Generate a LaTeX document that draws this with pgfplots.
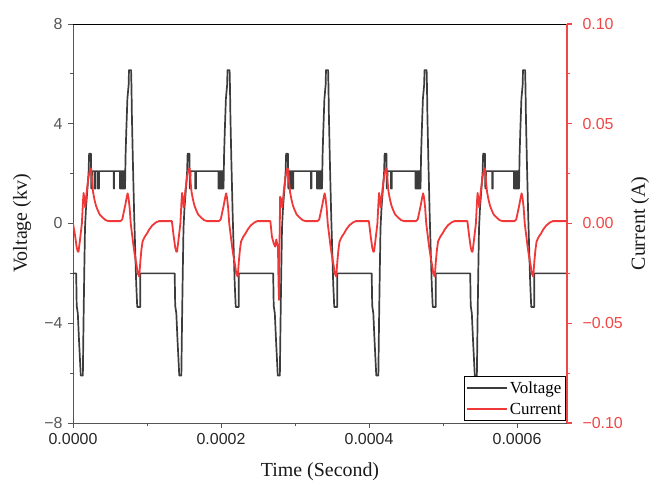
\documentclass[border=0pt]{standalone}
\usepackage{fontspec}
\setmainfont{Liberation Serif}
\newfontfamily\arialfont{Liberation Sans}
\usepackage{pgfplots}
\pgfplotsset{compat=1.18}

\definecolor{vgray}{RGB}{60,60,60}
\definecolor{axgray}{RGB}{85,85,85}
\definecolor{cred}{RGB}{240,56,56}
\definecolor{axred}{RGB}{240,70,70}

\begin{document}
\begin{tikzpicture}
\useasboundingbox (-73bp,-61bp) rectangle (578bp,423bp);

% time axis in microseconds, ticks labelled in seconds
\begin{axis}[
  at={(0,0)}, anchor=south west,
  scale only axis, width=494bp, height=399bp,
  xmin=0, xmax=667.5, ymin=-8, ymax=8,
  axis line style={draw=axgray, line width=0.9bp},
  xtick={0,200,400,600}, xticklabels={0.0000,0.0002,0.0004,0.0006},
  minor xtick={100,300,500},
  ytick={-8,-4,0,4,8}, yticklabels={−8,−4,0,4,8},
  minor ytick={-6,-2,2,6},
  xtick pos=lower, ytick pos=left,
  tick align=outside, major tick length=5bp, minor tick length=3bp,
  tick style={axgray, line width=0.9bp},
  tick label style={font=\arialfont\fontsize{16}{18}\selectfont},
  yticklabel style={color=axgray, xshift=-2bp},
  xticklabel style={color=black!85, yshift=-2bp},
  xlabel={Time (Second)}, ylabel={Voltage (kv)},
  label style={font=\fontsize{20}{24}\selectfont, color=black!90},
  xlabel style={at={(axis description cs:0.5,-0.123)}, anchor=center},
  ylabel style={at={(axis description cs:-0.103,0.5)}, anchor=center},
]
\addplot[color=vgray, line width=1.7bp, line join=round] coordinates {
(0,-2.0)(4.3,-2.0)(5.0,-3.3)(6.5,-3.6)(8.0,-4.6)(9.5,-5.5)(10.5,-6.1)(13.3,-6.1)(14.2,-4.0)(15.2,-2.0)(16.2,-0.2)(17.5,0.6)(19.5,1.4)(21.0,2.0)(21.8,2.8)(24.2,2.8)(24.8,1.4)(25.8,2.1)
(29.0,2.1)(29.0,1.4)(30.2,1.4)(30.2,2.1)
(33.5,2.1)(33.5,1.4)(35.1,1.4)(35.1,2.1)
(55.0,2.1)(55.0,1.4)(55.5,1.4)(55.5,2.1)
(63.5,2.1)(63.5,1.4)(64.35,1.4)(64.35,2.1)(65.2,2.1)(65.2,1.4)(66.05,1.4)(66.05,2.1)(66.9,2.1)(66.9,1.4)(67.75,1.4)(67.75,2.1)(68.6,2.1)(68.6,1.4)(69.45,1.4)(69.45,2.1)(70.3,2.1)(70.3,1.4)
(71.0,2.7)(72.0,3.7)(73.5,5.0)(75.3,5.6)(75.6,6.15)(78.5,6.15)(79.0,5.5)(79.6,4.3)(80.9,2.5)(82.7,0.3)(84.0,-1.0)(85.4,-2.4)(86.8,-3.35)(90.8,-3.35)(90.9,-2.0)
(137.4,-2.0)(138.1,-3.3)(139.6,-3.6)(141.1,-4.6)(142.6,-5.5)(143.6,-6.1)(146.4,-6.1)(147.3,-4.0)(148.3,-2.0)(149.3,-0.2)(150.6,0.6)(152.6,1.4)(154.1,2.0)(154.9,2.8)(157.3,2.8)(157.9,1.4)(158.9,2.1)
(165.1,2.1)(165.1,1.4)(166.3,1.4)(166.3,2.1)
(196.6,2.1)(196.6,1.4)(197.45,1.4)(197.45,2.1)(198.3,2.1)(198.3,1.4)(199.15,1.4)(199.15,2.1)(200.0,2.1)(200.0,1.4)(200.85,1.4)(200.85,2.1)(201.7,2.1)(201.7,1.4)(202.55,1.4)(202.55,2.1)(203.4,2.1)(203.4,1.4)
(204.1,2.7)(205.1,3.7)(206.6,5.0)(208.4,5.6)(208.7,6.15)(211.6,6.15)(212.1,5.5)(212.7,4.3)(214.0,2.5)(215.8,0.3)(217.1,-1.0)(218.5,-2.4)(219.9,-3.35)(223.9,-3.35)(224.0,-2.0)
(270.5,-2.0)(271.2,-3.3)(272.7,-3.6)(274.2,-4.6)(275.7,-5.5)(276.7,-6.1)(279.5,-6.1)(280.4,-4.0)(281.4,-2.0)(282.4,-0.2)(283.7,0.6)(285.7,1.4)(287.2,2.0)(288.0,2.8)(290.4,2.8)(291.0,1.4)(292.0,2.1)
(293.7,2.1)(293.7,1.4)(294.5,1.4)(294.5,2.1)(295.3,2.1)(295.3,1.4)(296.1,1.4)(296.1,2.1)(296.9,2.1)(296.9,1.4)(297.7,1.4)(297.7,2.1)
(321.7,2.1)(321.7,1.4)(322.3,1.4)(322.3,2.1)
(329.7,2.1)(329.7,1.4)(330.55,1.4)(330.55,2.1)(331.4,2.1)(331.4,1.4)(332.25,1.4)(332.25,2.1)(333.1,2.1)(333.1,1.4)(333.95,1.4)(333.95,2.1)(334.8,2.1)(334.8,1.4)(335.65,1.4)(335.65,2.1)(336.5,2.1)(336.5,1.4)
(337.2,2.7)(338.2,3.7)(339.7,5.0)(341.5,5.6)(341.8,6.15)(344.7,6.15)(345.2,5.5)(345.8,4.3)(347.1,2.5)(348.9,0.3)(350.2,-1.0)(351.6,-2.4)(353.0,-3.35)(357.0,-3.35)(357.1,-2.0)
(403.6,-2.0)(404.3,-3.3)(405.8,-3.6)(407.3,-4.6)(408.8,-5.5)(409.8,-6.1)(412.6,-6.1)(413.5,-4.0)(414.5,-2.0)(415.5,-0.2)(416.8,0.6)(418.8,1.4)(420.3,2.0)(421.1,2.8)(423.5,2.8)(424.1,1.4)(425.1,2.1)
(429.8,2.1)(429.8,1.4)(430.8,1.4)(430.8,2.1)
(462.8,2.1)(462.8,1.4)(463.65,1.4)(463.65,2.1)(464.5,2.1)(464.5,1.4)(465.35,1.4)(465.35,2.1)(466.2,2.1)(466.2,1.4)(467.05,1.4)(467.05,2.1)(467.9,2.1)(467.9,1.4)(468.75,1.4)(468.75,2.1)(469.6,2.1)(469.6,1.4)
(470.3,2.7)(471.3,3.7)(472.8,5.0)(474.6,5.6)(474.9,6.15)(477.8,6.15)(478.3,5.5)(478.9,4.3)(480.2,2.5)(482.0,0.3)(483.3,-1.0)(484.7,-2.4)(486.1,-3.35)(490.1,-3.35)(490.2,-2.0)
(536.7,-2.0)(537.4,-3.3)(538.9,-3.6)(540.4,-4.6)(541.9,-5.5)(542.9,-6.1)(545.7,-6.1)(546.6,-4.0)(547.6,-2.0)(548.6,-0.2)(549.9,0.6)(551.9,1.4)(553.4,2.0)(554.2,2.8)(556.6,2.8)(557.2,1.4)(558.2,2.1)
(566.3,2.1)(566.3,1.4)(567.3,1.4)(567.3,2.1)
(595.9,2.1)(595.9,1.4)(596.75,1.4)(596.75,2.1)(597.6,2.1)(597.6,1.4)(598.45,1.4)(598.45,2.1)(599.3,2.1)(599.3,1.4)(600.15,1.4)(600.15,2.1)(601.0,2.1)(601.0,1.4)(601.85,1.4)(601.85,2.1)(602.7,2.1)(602.7,1.4)
(603.4,2.7)(604.4,3.7)(605.9,5.0)(607.7,5.6)(608.0,6.15)(610.9,6.15)(611.4,5.5)(612.0,4.3)(613.3,2.5)(615.1,0.3)(616.4,-1.0)(617.8,-2.4)(619.2,-3.35)(623.2,-3.35)(623.3,-2.0)(670,-2.0)
};
\draw[black, line width=0.9bp] (rel axis cs:0,1) -- (rel axis cs:1,1);
\end{axis}

\begin{axis}[
  at={(0,0)}, anchor=south west,
  scale only axis, width=494bp, height=399bp,
  xmin=0, xmax=667.5, ymin=-0.1, ymax=0.1,
  axis x line=none, axis y line*=right,
  y axis line style={-, draw=axred, line width=1.1bp},
  ytick={-0.1,-0.05,0,0.05,0.1}, yticklabels={−0.10,−0.05,0.00,0.05,0.10},
  minor ytick={-0.075,-0.025,0.025,0.075},
  tick align=outside, major tick length=5bp, minor tick length=3bp,
  ytick style={axred, line width=1.1bp},
  yticklabel style={font=\arialfont\fontsize{16}{18}\selectfont, color=axred, xshift=7bp},
  ylabel={Current (A)},
  ylabel style={font=\fontsize{20}{24}\selectfont, color=black!90, at={(axis description cs:1.148,0.5)}, anchor=center, rotate=0},
  legend style={at={(rel axis cs:1,0)}, anchor=south east, xshift=-1bp, yshift=2bp,
    draw=black, line width=0.9bp, font=\fontsize{17}{19}\selectfont,
    inner xsep=2bp, inner ysep=3bp, row sep=4bp, cells={anchor=west}},
  legend image code/.code={\draw[#1] (0bp,0bp) -- (40bp,0bp);},
]
\addlegendimage{color=vgray, line width=1.6bp}
\addlegendentry{Voltage}
\addplot[color=cred, line width=1.8bp, line join=round] coordinates {
(0.0,0.0)(2.8,-0.006)(5.0,-0.012)(6.5,-0.0141)(7.5,-0.0141)(9.5,-0.008)(12.0,0.0)(13.5,0.011)(14.3,0.0153)(15.5,0.012)(16.5,0.008)(18.8,0.0168)(21.0,0.0234)(23.3,0.0276)(24.5,0.0276)(25.5,0.022)(27.0,0.016)(29.0,0.012)(31.0,0.009)(33.0,0.007)(36.0,0.0045)(40.0,0.003)(44.0,0.0017)(48.0,0.0012)(64.0,0.0012)(66.5,0.002)(68.5,0.0055)(70.5,0.009)(72.5,0.013)(73.8,0.0151)(75.0,0.013)(76.5,0.008)(78.0,0.0)(80.0,-0.006)(82.0,-0.012)(84.0,-0.017)(86.0,-0.021)(87.5,-0.025)(89.5,-0.0266)(91.0,-0.019)(92.5,-0.013)(94.0,-0.009)(97.0,-0.0066)(100.0,-0.005)(103.0,-0.003)(107.0,-0.001)(112.0,0.0005)(116.0,0.0012)
(133.6,0.0012)(135.9,-0.006)(138.1,-0.012)(139.6,-0.0141)(140.6,-0.0141)(142.6,-0.008)(145.1,0.0)(146.6,0.011)(147.4,0.0153)(148.6,0.012)(149.6,0.008)(151.9,0.0168)(154.1,0.0234)(156.4,0.0276)(157.6,0.0276)(158.6,0.022)(160.1,0.016)(162.1,0.012)(164.1,0.009)(166.1,0.007)(169.1,0.0045)(173.1,0.003)(177.1,0.0017)(181.1,0.0012)(197.1,0.0012)(199.6,0.002)(201.6,0.0055)(203.6,0.009)(205.6,0.013)(206.9,0.0151)(208.1,0.013)(209.6,0.008)(211.1,0.0)(213.1,-0.006)(215.1,-0.012)(217.1,-0.017)(219.1,-0.021)(220.6,-0.025)(222.6,-0.0266)(224.1,-0.019)(225.6,-0.013)(227.1,-0.009)(230.1,-0.0066)(233.1,-0.005)(236.1,-0.003)(240.1,-0.001)(245.1,0.0005)(249.1,0.0012)
(266.7,0.0012)(268.8,-0.0066)(271.2,-0.010)(273.2,-0.0116)(274.7,-0.008)(277.0,-0.012)(277.7,-0.030)(278.4,-0.0383)(279.0,-0.012)(279.9,0.0134)(281.7,0.012)(282.7,0.008)(285.0,0.0168)(287.2,0.0234)(289.5,0.0276)(290.7,0.0276)(291.7,0.022)(293.2,0.016)(295.2,0.012)(297.2,0.009)(299.2,0.007)(302.2,0.0045)(306.2,0.003)(310.2,0.0017)(314.2,0.0012)(330.2,0.0012)(332.7,0.002)(334.7,0.0055)(336.7,0.009)(338.7,0.013)(340.0,0.0151)(341.2,0.013)(342.7,0.008)(344.2,0.0)(346.2,-0.006)(348.2,-0.012)(350.2,-0.017)(352.2,-0.021)(353.7,-0.025)(355.7,-0.0266)(357.2,-0.019)(358.7,-0.013)(360.2,-0.009)(363.2,-0.0066)(366.2,-0.005)(369.2,-0.003)(373.2,-0.001)(378.2,0.0005)(382.2,0.0012)
(399.8,0.0012)(402.1,-0.006)(404.3,-0.012)(405.8,-0.0141)(406.8,-0.0141)(408.8,-0.008)(411.3,0.0)(412.8,0.011)(413.6,0.0153)(414.8,0.012)(415.8,0.008)(418.1,0.0168)(420.3,0.0234)(422.6,0.0276)(423.8,0.0276)(424.8,0.022)(426.3,0.016)(428.3,0.012)(430.3,0.009)(432.3,0.007)(435.3,0.0045)(439.3,0.003)(443.3,0.0017)(447.3,0.0012)(463.3,0.0012)(465.8,0.002)(467.8,0.0055)(469.8,0.009)(471.8,0.013)(473.1,0.0151)(474.3,0.013)(475.8,0.008)(477.3,0.0)(479.3,-0.006)(481.3,-0.012)(483.3,-0.017)(485.3,-0.021)(486.8,-0.025)(488.8,-0.0266)(490.3,-0.019)(491.8,-0.013)(493.3,-0.009)(496.3,-0.0066)(499.3,-0.005)(502.3,-0.003)(506.3,-0.001)(511.3,0.0005)(515.3,0.0012)
(532.9,0.0012)(535.2,-0.006)(537.4,-0.012)(538.9,-0.0141)(539.9,-0.0141)(541.9,-0.008)(544.4,0.0)(545.9,0.011)(546.7,0.0153)(547.9,0.012)(548.9,0.008)(551.2,0.0168)(553.4,0.0234)(555.7,0.0276)(556.9,0.0276)(557.9,0.022)(559.4,0.016)(561.4,0.012)(563.4,0.009)(565.4,0.007)(568.4,0.0045)(572.4,0.003)(576.4,0.0017)(580.4,0.0012)(596.4,0.0012)(598.9,0.002)(600.9,0.0055)(602.9,0.009)(604.9,0.013)(606.2,0.0151)(607.4,0.013)(608.9,0.008)(610.4,0.0)(612.4,-0.006)(614.4,-0.012)(616.4,-0.017)(618.4,-0.021)(619.9,-0.025)(621.9,-0.0266)(623.4,-0.019)(624.9,-0.013)(626.4,-0.009)(629.4,-0.0066)(632.4,-0.005)(635.4,-0.003)(639.4,-0.001)(644.4,0.0005)(648.4,0.0012)(670,0.0012)
};
\addlegendentry{Current}
\end{axis}
\end{tikzpicture}
\end{document}
